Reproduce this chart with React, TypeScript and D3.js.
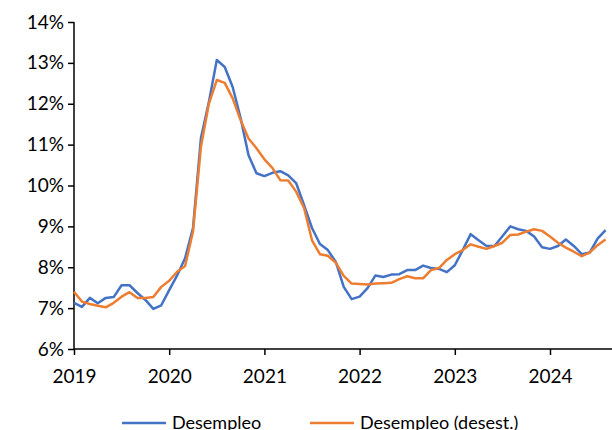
import * as d3 from "d3"
import { useEffect, useRef } from "react"

const years = [2019, 2020, 2021, 2022, 2023, 2024]
const yTicks = [6, 7, 8, 9, 10, 11, 12, 13, 14]

// monthly, Jan 2019 .. Aug 2024
const desempleo = [
  7.13, 7.03, 7.25, 7.12, 7.25, 7.27, 7.56, 7.56, 7.37, 7.2, 6.98, 7.07,
  7.44, 7.8, 8.22, 8.96, 11.16, 12.04, 13.07, 12.9, 12.41, 11.65, 10.74, 10.3,
  10.23, 10.31, 10.35, 10.25, 10.06, 9.52, 8.96, 8.57, 8.42, 8.13, 7.52, 7.22,
  7.28, 7.49, 7.8, 7.76, 7.82, 7.83, 7.93, 7.93, 8.04, 7.98, 7.96, 7.88,
  8.05, 8.42, 8.81, 8.66, 8.52, 8.52, 8.76, 9.0, 8.93, 8.89, 8.75, 8.49,
  8.45, 8.52, 8.68, 8.52, 8.32, 8.36, 8.7, 8.91,
]
const desestacionalizado = [
  7.4, 7.16, 7.1, 7.06, 7.02, 7.13, 7.28, 7.39, 7.25, 7.25, 7.27, 7.52,
  7.67, 7.89, 8.03, 8.87, 10.95, 12.0, 12.58, 12.51, 12.13, 11.6, 11.15, 10.91,
  10.64, 10.43, 10.13, 10.12, 9.85, 9.45, 8.66, 8.32, 8.28, 8.11, 7.79, 7.6,
  7.59, 7.58, 7.6, 7.61, 7.62, 7.71, 7.78, 7.73, 7.73, 7.93, 7.98, 8.18,
  8.32, 8.42, 8.56, 8.5, 8.45, 8.52, 8.6, 8.79, 8.8, 8.87, 8.93, 8.89,
  8.75, 8.6, 8.48, 8.38, 8.27, 8.36, 8.54, 8.68,
]

const font = "Lato, 'Open Sans', sans-serif"

export default function App() {
  const ref = useRef<SVGSVGElement>(null)

  useEffect(() => {
    const svg = d3.select(ref.current)
    svg.selectAll("*").remove()

    const x = d3.scaleLinear().domain([0, 60]).range([74, 550])
    const y = d3.scaleLinear().domain([6, 14]).range([349, 22])

    const yAxis = svg
      .append("g")
      .attr("transform", "translate(74,0)")
      .call(
        d3
          .axisLeft(y)
          .tickValues(yTicks)
          .tickSize(6)
          .tickFormat((d) => `${d}%`),
      )
    yAxis.select(".domain").attr("stroke", "#000").attr("stroke-width", 1.5).attr("d", "M0,22V349")
    yAxis.selectAll("line").attr("stroke-width", 1.5)
    yAxis.selectAll("text").attr("font-size", 19).attr("font-family", font).attr("x", -10)

    const xAxis = svg
      .append("g")
      .attr("transform", "translate(0,349)")
      .call(
        d3
          .axisBottom(x)
          .tickValues(years.map((_, i) => i * 12))
          .tickSize(6)
          .tickFormat((_, i) => String(years[i])),
      )
    xAxis.select(".domain").attr("stroke-width", 1.5).attr("d", "M74,0H612")
    xAxis.selectAll("line").attr("stroke-width", 1.5)
    xAxis.selectAll("text").attr("font-size", 19).attr("font-family", font).attr("dy", "1.3em")

    const line = d3
      .line<number>()
      .x((_, i) => x(i))
      .y((d) => y(d))

    const series = [
      { name: "Desempleo", data: desempleo, color: "#4472C4" },
      { name: "Desempleo (desest.)", data: desestacionalizado, color: "#ED7D31" },
    ]

    series.forEach((s) => {
      svg
        .append("path")
        .datum(s.data)
        .attr("fill", "none")
        .attr("stroke", s.color)
        .attr("stroke-width", 2.5)
        .attr("stroke-linejoin", "round")
        .attr("d", line)
    })

    const legend = svg.append("g").attr("font-family", font).attr("font-size", 18)
    const lx = [122, 310]
    series.forEach((s, i) => {
      legend
        .append("line")
        .attr("x1", lx[i])
        .attr("x2", lx[i] + 44)
        .attr("y1", 423)
        .attr("y2", 423)
        .attr("stroke", s.color)
        .attr("stroke-width", 2.5)
      legend
        .append("text")
        .attr("x", lx[i] + 50)
        .attr("y", 429)
        .text(s.name)
    })
  }, [])

  return (
    <svg
      ref={ref}
      width={612}
      height={430}
      style={{ position: "absolute", left: 0, top: 0, background: "#fff" }}
    />
  )
}
